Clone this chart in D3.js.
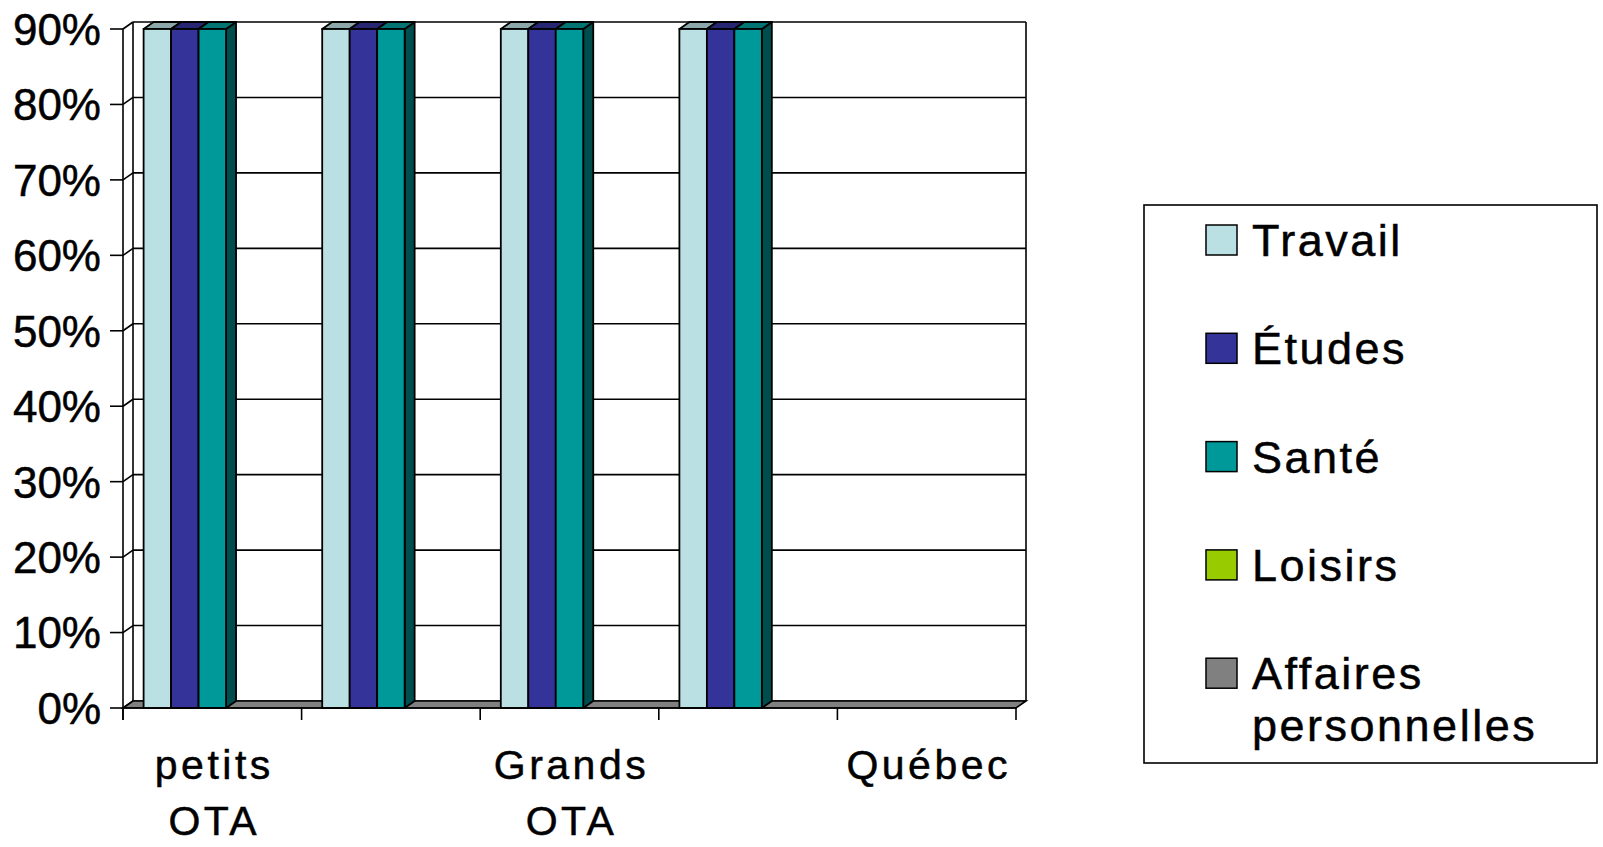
<!DOCTYPE html>
<html><head><meta charset="utf-8">
<script src="https://cdn.jsdelivr.net/npm/d3@7"></script>
<style>
body{margin:0;background:#fff}
svg{display:block}
text{font-family:"Liberation Sans",Arial,sans-serif;fill:#000;stroke:#000;stroke-width:0.5px}
</style>
</head><body>
<svg id="c" width="1603" height="847"></svg>
<script>
// ---- data ----
const categories = ["petits OTA", "", "Grands OTA", "", "Québec"];
const seriesNames = ["Travail", "Études", "Santé", "Loisirs", "Affaires personnelles"];
const travail  = [0.9, 0.9, 0.9, 0.9, 0];
const etudes   = [0.9, 0.9, 0.9, 0.9, 0];
const sante    = [0.9, 0.9, 0.9, 0.9, 0];
const loisirs  = [0, 0, 0, 0, 0];
const affaires = [0, 0, 0, 0, 0];
const yTicks = [0, 0.1, 0.2, 0.3, 0.4, 0.5, 0.6, 0.7, 0.8, 0.9];
const colors = ["#BBE0E3", "#333399", "#009999", "#99CC00", "#808080"];

const seriesValues = [travail, etudes, sante, loisirs, affaires];

// ---- layout ----
const svg = d3.select("#c");
const DX = 10, DY = 7;
const plotLeft = 123, plotRight = 1016, plotBottom = 708, plotTop = 29;

const x0 = d3.scaleBand().domain(d3.range(categories.length)).range([plotLeft, plotRight]).padding(0);
const x1 = d3.scaleBand().domain(d3.range(seriesNames.length)).range([0, x0.bandwidth()])
  .paddingInner(0).paddingOuter(0.75);
const y = d3.scaleLinear().domain([0, 0.9]).range([plotBottom, plotTop]);

function shade(c, k) {
  const r = d3.rgb(c);
  return d3.rgb(r.r * k, r.g * k, r.b * k).formatHex();
}
const pts = a => a.map(p => p.join(",")).join(" ");

const g = svg.append("g");

// back wall gridlines
g.selectAll("line.grid").data(yTicks).join("line")
  .attr("x1", plotLeft + DX).attr("x2", plotRight + DX)
  .attr("y1", d => y(d) - DY).attr("y2", d => y(d) - DY)
  .attr("stroke", "#000").attr("stroke-width", 1.6);
// left wall diagonals
g.selectAll("line.diag").data(yTicks).join("line")
  .attr("x1", plotLeft).attr("x2", plotLeft + DX)
  .attr("y1", d => y(d)).attr("y2", d => y(d) - DY)
  .attr("stroke", "#000").attr("stroke-width", 1.6);
// wall verticals
g.append("line").attr("x1", plotLeft + DX).attr("x2", plotLeft + DX).attr("y1", y(0.9) - DY).attr("y2", y(0) - DY)
  .attr("stroke", "#000").attr("stroke-width", 1.6);
g.append("line").attr("x1", plotRight + DX).attr("x2", plotRight + DX).attr("y1", y(0.9) - DY).attr("y2", y(0) - DY)
  .attr("stroke", "#000").attr("stroke-width", 1.6);

// floor
g.append("polygon")
  .attr("points", pts([[plotLeft, y(0)], [plotRight, y(0)], [plotRight + DX, y(0) - DY], [plotLeft + DX, y(0) - DY]]))
  .attr("fill", "#808080").attr("stroke", "#000").attr("stroke-width", 1.6);

// bars
const bars = [];
categories.forEach((c, ci) => {
  seriesValues.forEach((vals, si) => {
    if (vals[ci] > 0) bars.push({ci, si, v: vals[ci]});
  });
});
const bg = g.selectAll("g.bar").data(bars).join("g").attr("class", "bar");
bg.each(function(d) {
  const sel = d3.select(this);
  const xa = x0(d.ci) + x1(d.si), xb = xa + x1.bandwidth();
  const yt = y(d.v), yb = y(0);
  const col = colors[d.si];
  sel.append("polygon")
    .attr("points", pts([[xb, yb], [xb + DX, yb - DY], [xb + DX, yt - DY], [xb, yt]]))
    .attr("fill", shade(col, 0.5)).attr("stroke", "#000").attr("stroke-width", 1.8).attr("stroke-linejoin", "round");
  sel.append("polygon")
    .attr("points", pts([[xa, yt], [xa + DX, yt - DY], [xb + DX, yt - DY], [xb, yt]]))
    .attr("fill", shade(col, 0.75)).attr("stroke", "#000").attr("stroke-width", 1.8).attr("stroke-linejoin", "round");
  sel.append("rect").attr("x", xa).attr("y", yt).attr("width", xb - xa).attr("height", yb - yt)
    .attr("fill", col).attr("stroke", "#000").attr("stroke-width", 1.8);
});

// front y axis
g.append("line").attr("x1", plotLeft).attr("x2", plotLeft).attr("y1", y(0.9)).attr("y2", y(0) + 12)
  .attr("stroke", "#000").attr("stroke-width", 1.6);
g.selectAll("line.ytick").data(yTicks).join("line")
  .attr("x1", plotLeft - 13).attr("x2", plotLeft).attr("y1", d => y(d)).attr("y2", d => y(d))
  .attr("stroke", "#000").attr("stroke-width", 1.6);
g.selectAll("text.ylab").data(yTicks).join("text")
  .attr("x", 101).attr("y", d => y(d)).attr("dy", "0.36em")
  .attr("text-anchor", "end").attr("font-size", 44)
  .text(d => d3.format(".0%")(d));

// x axis ticks
const xTickPos = d3.range(categories.length).map(i => x0(i)).concat([plotRight]);
g.selectAll("line.xtick").data(xTickPos).join("line")
  .attr("x1", d => d).attr("x2", d => d).attr("y1", y(0)).attr("y2", y(0) + 12)
  .attr("stroke", "#000").attr("stroke-width", 1.6);
g.append("line").attr("x1", plotLeft).attr("x2", plotRight).attr("y1", y(0)).attr("y2", y(0))
  .attr("stroke", "#000").attr("stroke-width", 1.6);

// x labels
categories.forEach((c, i) => {
  if (!c) return;
  const lines = c.split(" ");
  const t = g.append("text").attr("text-anchor", "middle").attr("font-size", 41)
    .attr("letter-spacing", 3.5);
  lines.forEach((ln, k) => {
    t.append("tspan").attr("x", x0(i) + x0.bandwidth() / 2 + 2).attr("y", 779 + k * 56).text(ln);
  });
});

// legend
const lg = svg.append("g");
lg.append("rect").attr("x", 1144).attr("y", 205).attr("width", 453).attr("height", 558)
  .attr("fill", "#fff").attr("stroke", "#000").attr("stroke-width", 1.6);
seriesNames.forEach((s, i) => {
  const yy = 225 + i * 108.3;
  lg.append("rect").attr("x", 1206).attr("y", yy).attr("width", 31).attr("height", 30)
    .attr("fill", colors[i]).attr("stroke", "#000").attr("stroke-width", 1.5);
  const t = lg.append("text").attr("font-size", 45).attr("letter-spacing", 2.5);
  s.split(" ").forEach((ln, k) => {
    t.append("tspan").attr("x", 1252).attr("y", yy + 31 + k * 52).text(ln);
  });
});
</script>
</body></html>
